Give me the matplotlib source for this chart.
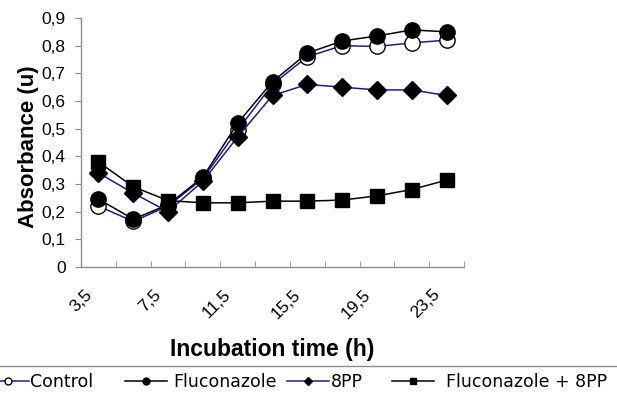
import numpy as np
import matplotlib.pyplot as plt
from matplotlib.lines import Line2D
from matplotlib.transforms import ScaledTranslation

hours = [3.5, 5.5, 7.5, 9.5, 11.5, 13.5, 15.5, 17.5, 19.5, 21.5, 23.5]
control = [0.22, 0.165, 0.22, 0.32, 0.495, 0.66, 0.76, 0.80, 0.797, 0.81, 0.82]
fluconazole = [0.246, 0.173, 0.225, 0.325, 0.52, 0.67, 0.773, 0.817, 0.835, 0.857, 0.85]
pp8 = [0.34, 0.267, 0.20, 0.31, 0.47, 0.62, 0.66, 0.65, 0.64, 0.64, 0.62]
fluc_pp8 = [0.38, 0.29, 0.24, 0.232, 0.232, 0.238, 0.238, 0.242, 0.257, 0.28, 0.314]
series_names = ['Control', 'Fluconazole', '8PP', 'Fluconazole + 8PP']

blue = '#1c1c8c'
grey = '#8c8c8c'

fig = plt.figure(figsize=(6.17, 3.95), dpi=100)
ax = fig.add_axes([81 / 617, 128 / 395, 383 / 617, 249 / 395])

pos = np.arange(len(hours))
ax.plot(pos, control, color=blue, lw=1.1, marker='o', ms=11,
        mfc='white', mec='black', mew=1.0, zorder=3)
ax.plot(pos, fluconazole, color='black', lw=1.1, marker='o', ms=11,
        mfc='black', mec='black', zorder=4)
ax.plot(pos, pp8, color=blue, lw=1.1, marker='D', ms=9.5,
        mfc='black', mec='black', zorder=5)
ax.plot(pos, fluc_pp8, color='black', lw=1.1, marker='s', ms=10.5,
        mfc='black', mec='black', zorder=6)

ax.set_xlim(-0.5, len(hours) - 0.5)
ax.set_ylim(0, 0.9)
yt = np.arange(0, 0.91, 0.1)
ax.set_yticks(yt)
ax.set_yticklabels(['0'] + [('%.1f' % v).replace('.', ',') for v in yt[1:]],
                   fontsize=12.5, family='Liberation Sans')

ax.set_xticks(pos[::2])
ax.set_xticklabels([('%.1f' % h).replace('.', ',') for h in hours[::2]],
                   fontsize=12.5, family='Liberation Sans', rotation=45,
                   ha='right', va='center', rotation_mode='anchor')
ax.set_xticks(np.arange(-0.5, len(hours)), minor=True)
ax.tick_params(axis='x', which='major', length=0, pad=18)
ax.tick_params(axis='x', which='minor', length=4, color=grey, direction='in')
ax.tick_params(axis='y', length=4, color=grey, direction='out', pad=7)
for lab in ax.get_xticklabels():
    lab.set_transform(lab.get_transform() + ScaledTranslation(-0.09, 0, fig.dpi_scale_trans))

for s in ['top', 'right']:
    ax.spines[s].set_visible(False)
for s in ['left', 'bottom']:
    ax.spines[s].set_color(grey)
    ax.spines[s].set_linewidth(1.0)

ax.set_ylabel('Absorbance (u)', fontsize=16, fontweight='bold',
              family='Liberation Sans')
ax.yaxis.set_label_coords(-0.11, 0.485)
ax.set_xlabel('Incubation time (h)', fontsize=16.5, fontweight='bold',
              family='Liberation Sans', labelpad=12)

# legend: a framed box that runs past the figure edges, only its top edge shows
fig.add_artist(Line2D([0, 1], [1 - 366 / 395, 1 - 366 / 395],
                      transform=fig.transFigure, color=grey, lw=1.0))
handles = [
    Line2D([], [], color=blue, lw=1.1, marker='o', ms=5, mfc='white', mec='black'),
    Line2D([], [], color='black', lw=1.1, marker='o', ms=5, mfc='black', mec='black'),
    Line2D([], [], color=blue, lw=1.1, marker='D', ms=4, mfc='black', mec='black'),
    Line2D([], [], color='black', lw=1.1, marker='s', ms=5, mfc='black', mec='black'),
]
starts = [-13, 125, 287, 392]
pads = [0.1, 0.4, 0.1, 0.7]
for h, name, x0, p in zip(handles, series_names, starts, pads):
    fig.legend([h], [name], loc='center left', bbox_to_anchor=(x0 / 617, 1 - 382 / 395),
               frameon=False, fontsize=12.5, borderpad=0, borderaxespad=0,
               handlelength=2.4, handletextpad=p)

fig.savefig('out.png', dpi=100)
